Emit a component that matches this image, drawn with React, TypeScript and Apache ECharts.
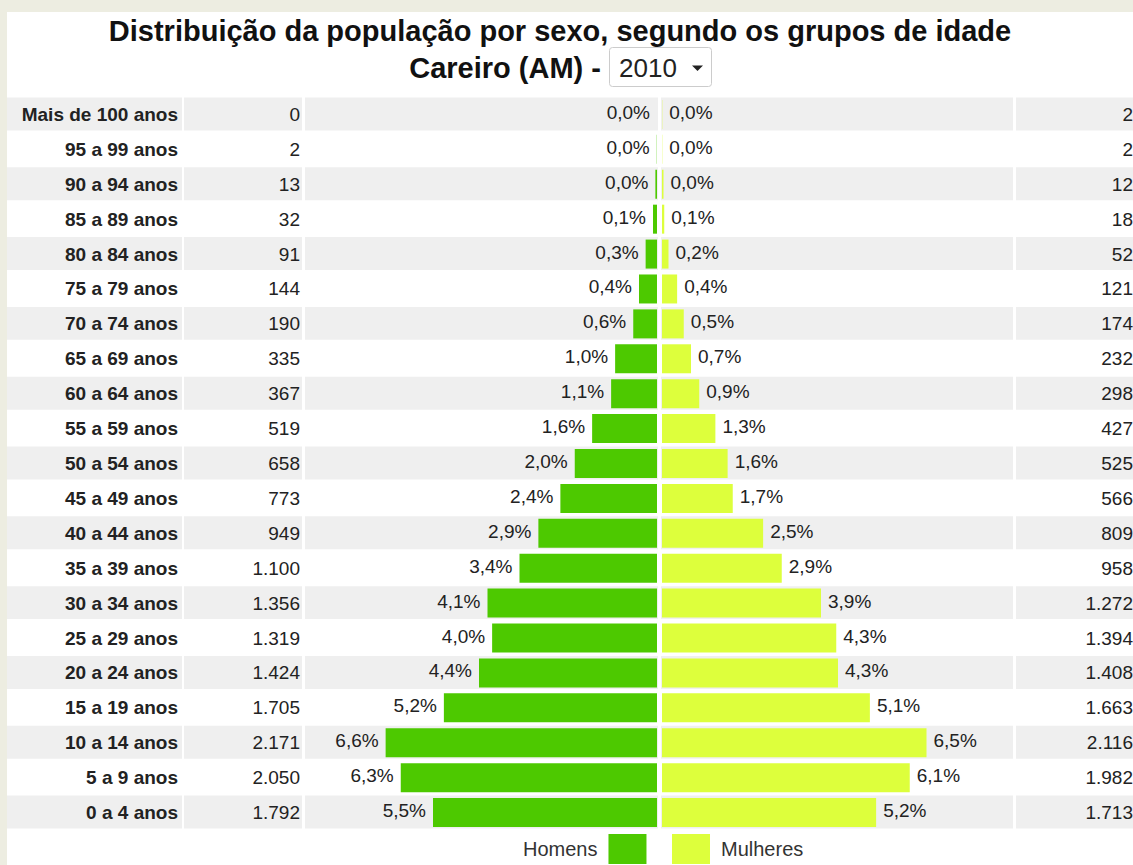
import React, { useEffect, useRef } from "react";
import * as echarts from "echarts";

const ages = [
  "Mais de 100 anos", "95 a 99 anos", "90 a 94 anos", "85 a 89 anos", "80 a 84 anos",
  "75 a 79 anos", "70 a 74 anos", "65 a 69 anos", "60 a 64 anos", "55 a 59 anos",
  "50 a 54 anos", "45 a 49 anos", "40 a 44 anos", "35 a 39 anos", "30 a 34 anos",
  "25 a 29 anos", "20 a 24 anos", "15 a 19 anos", "10 a 14 anos", "5 a 9 anos", "0 a 4 anos",
];
const maleCounts = [0, 2, 13, 32, 91, 144, 190, 335, 367, 519, 658, 773, 949, 1100, 1356, 1319, 1424, 1705, 2171, 2050, 1792];
const femaleCounts = [2, 2, 12, 18, 52, 121, 174, 232, 298, 427, 525, 566, 809, 958, 1272, 1394, 1408, 1663, 2116, 1982, 1713];
const malePct = ["0,0%", "0,0%", "0,0%", "0,1%", "0,3%", "0,4%", "0,6%", "1,0%", "1,1%", "1,6%", "2,0%", "2,4%", "2,9%", "3,4%", "4,1%", "4,0%", "4,4%", "5,2%", "6,6%", "6,3%", "5,5%"];
const femalePct = ["0,0%", "0,0%", "0,0%", "0,1%", "0,2%", "0,4%", "0,5%", "0,7%", "0,9%", "1,3%", "1,6%", "1,7%", "2,5%", "2,9%", "3,9%", "4,3%", "4,3%", "5,1%", "6,5%", "6,1%", "5,2%"];
const titleLine1 = "Distribuição da população por sexo, segundo os grupos de idade";
const titleLine2 = "Careiro (AM) -";
const yearLabel = "2010";
const seriesNames = ["Homens", "Mulheres"];

const FONT = "'Liberation Sans', Arial, sans-serif";
const MALE = "#4DC900";
const FEMALE = "#DDFF3C";
const BAND = "#EFEFEF";

const fmt = (n: number) => String(n).replace(/\B(?=(\d{3})+(?!\d))/g, ".");

export default function App() {
  const ref = useRef<HTMLDivElement>(null);
  useEffect(() => {
    if (!ref.current) return;
    const chart = echarts.init(ref.current, null, { renderer: "svg" });
    const top = 97;
    const height = 733;
    const cols = [
      { left: 8, width: 174 },
      { left: 184, width: 118 },
      { left: 305, width: 352 },
      { left: 662, width: 351 },
      { left: 1016, width: 117 },
    ];
    const grids = cols.map((c) => ({ left: c.left, width: c.width, top, height }));
    const maxC = 2816;
    const xAxes = cols.map((c, i) => ({
      type: "value",
      gridIndex: i,
      show: false,
      min: 0,
      max: i === 2 ? maxC : i === 3 ? (maxC * 351) / 352 : 1,
      inverse: i === 2,
    }));
    const yAxes = cols.map((c, i) => ({
      type: "category",
      gridIndex: i,
      data: ages,
      inverse: true,
      show: false,
    }));
    const rowData = ages.map((a, i) => [0, i]);
    const cellSeries = (gi: number, texts: string[] | null, bold: boolean, padL: number, padR: number) => ({
      type: "custom",
      xAxisIndex: gi,
      yAxisIndex: gi,
      z: 1,
      silent: true,
      data: rowData,
      encode: { x: 0, y: 1 },
      renderItem: (params: any, api: any) => {
        const i = api.value(1);
        const cs = params.coordSys;
        const yc = api.coord([0, i])[1];
        const bh = api.size([0, 1])[1];
        const children: any[] = [];
        if (i % 2 === 0) {
          children.push({
            type: "rect",
            shape: { x: cs.x - padL, y: yc - bh / 2 + 0.5, width: cs.width + padL + padR, height: bh - 2 },
            style: { fill: BAND },
          });
        }
        if (texts) {
          children.push({
            type: "text",
            style: {
              text: texts[i],
              x: cs.x + cs.width - (gi === 4 ? 0 : gi === 0 ? 4 : 2),
              y: yc,
              align: "right",
              verticalAlign: "middle",
              fontFamily: FONT,
              fontSize: 19,
              fontWeight: bold ? "bold" : "normal",
              fill: "#222",
            },
          });
        }
        return { type: "group", children };
      },
    });

    const option: any = {
      animation: false,
      backgroundColor: "#EDEDE1",
      grid: grids,
      xAxis: xAxes,
      yAxis: yAxes,
      legend: [
        {
          data: [seriesNames[0]],
          left: 523,
          top: 834,
          padding: 0,
          align: "right",
          icon: "rect",
          itemWidth: 38,
          itemHeight: 30,
          selectedMode: false,
          textStyle: { fontFamily: FONT, fontSize: 20, color: "#333", padding: [0, 6, 0, 0] },
        },
        {
          data: [seriesNames[1]],
          left: 672,
          top: 834,
          padding: 0,
          align: "left",
          icon: "rect",
          itemWidth: 38,
          itemHeight: 30,
          selectedMode: false,
          textStyle: { fontFamily: FONT, fontSize: 20, color: "#333", padding: [0, 0, 0, 6] },
        },
      ],
      graphic: [
        { type: "rect", z: -10, shape: { x: 7, y: 12, width: 1126, height: 853 }, style: { fill: "#FFFFFF" }, silent: true },
        {
          type: "text",
          x: 560,
          y: 31,
          style: { text: titleLine1, align: "center", verticalAlign: "middle", fontFamily: FONT, fontSize: 29, fontWeight: "bold", fill: "#111" },
        },
        {
          type: "text",
          x: 601,
          y: 68,
          style: { text: titleLine2, align: "right", verticalAlign: "middle", fontFamily: FONT, fontSize: 29, fontWeight: "bold", fill: "#111" },
        },
        {
          type: "rect",
          shape: { x: 609.5, y: 47.5, width: 102, height: 39, r: 3 },
          style: { fill: "#FFFFFF", stroke: "#CCCCCC", lineWidth: 1 },
        },
        {
          type: "text",
          x: 619,
          y: 68,
          style: { text: yearLabel, align: "left", verticalAlign: "middle", fontFamily: "'Liberation Sans Narrow', 'Liberation Sans', Arial", fontSize: 26, fill: "#222" },
        },
        {
          type: "polygon",
          shape: { points: [[692, 65.5], [703, 65.5], [697.5, 71]] },
          style: { fill: "#222" },
        },
      ],
      series: [
        cellSeries(0, ages, true, 1, 0),
        cellSeries(1, maleCounts.map(fmt), false, 0, 0),
        cellSeries(2, null, false, 0, 1),
        cellSeries(3, null, false, 1, 0),
        cellSeries(4, femaleCounts.map(fmt), false, 0, 0),
        {
          name: seriesNames[0],
          type: "bar",
          xAxisIndex: 2,
          yAxisIndex: 2,
          z: 3,
          barWidth: 29,
          data: maleCounts,
          itemStyle: { color: MALE },
          label: {
            show: true,
            position: "left",
            distance: 7,
            offset: [0, -2],
            formatter: (p: any) => malePct[p.dataIndex],
            fontFamily: FONT,
            fontSize: 19,
            color: "#222",
          },
        },
        {
          name: seriesNames[1],
          type: "bar",
          xAxisIndex: 3,
          yAxisIndex: 3,
          z: 3,
          barWidth: 29,
          data: femaleCounts,
          itemStyle: { color: FEMALE },
          label: {
            show: true,
            position: "right",
            distance: 7,
            offset: [0, -2],
            formatter: (p: any) => femalePct[p.dataIndex],
            fontFamily: FONT,
            fontSize: 19,
            color: "#222",
          },
        },
      ],
    };
    chart.setOption(option);
    return () => chart.dispose();
  }, []);
  return (
    <div
      ref={ref}
      style={{ position: "fixed", left: 0, top: 0, width: 1133, height: 865 }}
    />
  );
}
